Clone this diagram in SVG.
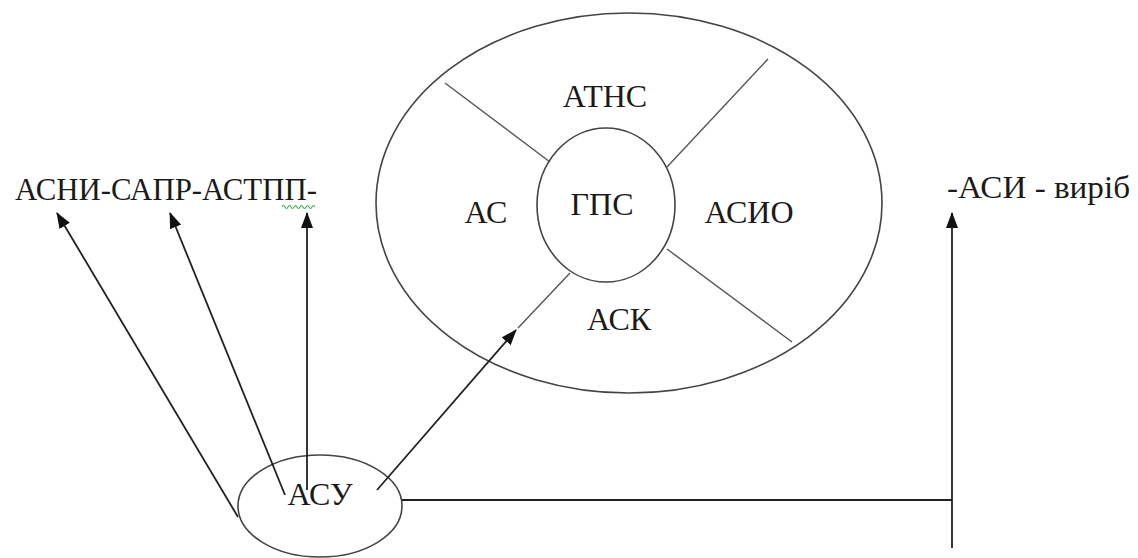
<svg xmlns="http://www.w3.org/2000/svg" width="1138" height="558" viewBox="0 0 1138 558">
<style>
.shape{fill:none;stroke:#444;stroke-width:1.6}
.thin{fill:none;stroke:#555;stroke-width:1.4}
.conn{fill:none;stroke:#222;stroke-width:1.8}
.lbl{font-family:'Liberation Serif','DejaVu Serif',serif;font-size:32px;fill:#1a1a1a}
</style>
<defs>
<marker id="arr" viewBox="0 0 16 12" refX="15" refY="6" markerWidth="16" markerHeight="12" markerUnits="userSpaceOnUse" orient="auto">
<path d="M0,0 L16,6 L0,12 Z" fill="#111"/>
</marker>
</defs>
<rect width="1138" height="558" fill="#fff"/>
<g id="gps-system">
<ellipse class="shape" cx="629" cy="203" rx="253" ry="190"/>
<line class="thin" x1="445" y1="83" x2="550" y2="162"/>
<line class="thin" x1="768" y1="59" x2="667" y2="167"/>
<line class="thin" x1="667" y1="249" x2="792" y2="342"/>
<line class="thin" x1="570" y1="273" x2="518" y2="328"/>
<text class="lbl" x="605" y="107" text-anchor="middle">АТНС</text>
<text class="lbl" x="486" y="223" text-anchor="middle">АС</text>
<text class="lbl" x="749" y="223" text-anchor="middle">АСИО</text>
<text class="lbl" x="619" y="330" text-anchor="middle">АСК</text>
</g>
<g id="gps">
<ellipse class="shape" cx="606" cy="205" rx="69" ry="77"/>
<text class="lbl" x="602" y="215" text-anchor="middle">ГПС</text>
</g>
<g id="asu">
<ellipse class="shape" cx="320" cy="506" rx="82" ry="51"/>
<text class="lbl" x="320" y="505" text-anchor="middle">АСУ</text>
</g>
<g id="left-label">
<text class="lbl" x="15" y="200" textLength="302" lengthAdjust="spacingAndGlyphs">АСНИ-САПР-АСТПП-</text>
<path d="M282,207 q1.5,-3 3,0 t3,0 t3,0 t3,0 t3,0 t3,0 t3,0 t3,0 t3,0 t3,0 t3,0" fill="none" stroke="#3bb34a" stroke-width="1.2"/>
</g>
<g id="right-label">
<text class="lbl" x="947" y="198" textLength="183" lengthAdjust="spacingAndGlyphs">-АСИ - виріб</text>
</g>
<g id="connectors">
<line class="conn" x1="238" y1="517" x2="57" y2="213" marker-end="url(#arr)"/>
<line class="conn" x1="285" y1="495" x2="170" y2="213" marker-end="url(#arr)"/>
<line class="conn" x1="307" y1="490" x2="307" y2="213" marker-end="url(#arr)"/>
<line class="conn" x1="377" y1="490" x2="516" y2="330" marker-end="url(#arr)"/>
<line class="conn" x1="402" y1="500" x2="952" y2="500"/>
<line class="conn" x1="952" y1="548" x2="952" y2="213" marker-end="url(#arr)"/>
</g>
</svg>
